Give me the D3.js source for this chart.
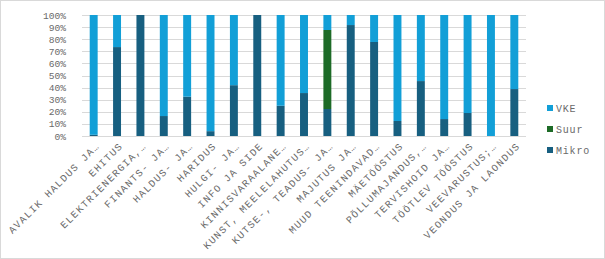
<!DOCTYPE html>
<html>
<head>
<meta charset="utf-8">
<script src="https://cdn.jsdelivr.net/npm/d3@7"></script>
<style>
  body { margin: 0; background: #fff; }
  text { font-family: "Courier New", "Liberation Mono", monospace; fill: #6a6a6a; }
</style>
</head>
<body>
<div id="chart"></div>
<script>
// categories and shares (in %)
const categories = [
    "AVALIK HALDUS JA…", "EHITUS", "ELEKTRIENERGIA,…", "FINANTS- JA…", "HALDUS- JA…",
    "HARIDUS", "HULGI- JA…", "INFO JA SIDE", "KINNISVARAALANE…", "KUNST, MEELELAHUTUS…",
    "KUTSE-, TEADUS- JA…", "MAJUTUS JA…", "MUUD TEENINDAVAD…", "MÄETÖÖSTUS", "PÕLLUMAJANDUS,…",
    "TERVISHOID JA…", "TÖÖTLEV TÖÖSTUS", "VEEVARUSTUS;…", "VEONDUS JA LAONDUS"
];
const mikro = [1, 73.5, 100, 16.5, 32.5, 4, 42, 100, 25, 35.5, 22.3, 91.7, 77.7, 12.4, 45.4, 14, 19, 0, 38.8];
const suur  = [0, 0, 0, 0, 0, 0, 0, 0, 0, 0, 65.3, 0, 0, 0, 0, 0, 0, 0, 0];
const vke   = mikro.map((m, i) => 100 - m - suur[i]);

const seriesNames = ["Mikro", "Suur", "VKE"];
const colors = { Mikro: "#175f80", Suur: "#1d6b27", VKE: "#129fd7" };
const yTicks = [0, 10, 20, 30, 40, 50, 60, 70, 80, 90, 100];

const width = 605;
const height = 259;

const table = categories.map((c, i) => ({ cat: c, Mikro: mikro[i], Suur: suur[i], VKE: vke[i] }));

const svg = d3.select("#chart")
    .append("svg")
    .attr("width", width)
    .attr("height", height);

svg.append("rect")
    .attr("x", 0.5).attr("y", 0.5)
    .attr("width", width - 1).attr("height", height - 1)
    .attr("fill", "#fff")
    .attr("stroke", "#d9d9d9");

const x = d3.scaleBand()
    .domain(categories)
    .range([82, 526])
    .paddingInner(0.66)
    .paddingOuter(0.33);

const y = d3.scaleLinear()
    .domain([0, 100])
    .range([136, 15]);

// gridlines
svg.append("g")
    .selectAll("line")
    .data(yTicks)
    .enter()
    .append("line")
    .attr("x1", 82)
    .attr("x2", 526)
    .attr("y1", d => Math.round(y(d)) + 0.5)
    .attr("y2", d => Math.round(y(d)) + 0.5)
    .attr("stroke", "#d9d9d9")
    .attr("stroke-width", 1);

const leftAxis = d3.axisLeft(y)
    .tickValues(yTicks)
    .tickFormat(d => d + "%")
    .tickSize(0)
    .tickPadding(16);

const gy = svg.append("g")
    .attr("transform", "translate(82,0)")
    .call(leftAxis);
gy.select(".domain").remove();
gy.selectAll("text")
    .style("font-size", "9.6px")
    .style("fill", "#6a6a6a")
    .style("font-family", '"Courier New", "Liberation Mono", monospace');

const stacked = d3.stack().keys(seriesNames)(table);

svg.append("g")
    .selectAll("g")
    .data(stacked)
    .enter()
    .append("g")
    .attr("fill", d => colors[d.key])
    .selectAll("rect")
    .data(d => d)
    .enter()
    .append("rect")
    .attr("x", d => x(d.data.cat))
    .attr("width", x.bandwidth())
    .attr("y", d => y(d[1]))
    .attr("height", d => y(d[0]) - y(d[1]));

// category labels, rotated
svg.append("g")
    .selectAll("text")
    .data(categories)
    .enter()
    .append("text")
    .attr("transform", d => `translate(${x(d) + x.bandwidth() / 2 + 4},144) rotate(-45)`)
    .attr("text-anchor", "end")
    .attr("dy", "0.35em")
    .style("font-size", "10px")
    .style("letter-spacing", "1.3px")
    .text(d => d);

// legend
const legend = svg.append("g")
    .selectAll("g")
    .data(seriesNames.slice().reverse())
    .enter()
    .append("g")
    .attr("transform", (d, i) => `translate(547,${108 + i * 21})`);

legend.append("rect")
    .attr("x", 0).attr("y", -3)
    .attr("width", 6).attr("height", 6)
    .attr("fill", d => colors[d]);

legend.append("text")
    .attr("x", 9)
    .attr("dy", "0.35em")
    .style("font-size", "10px")
    .style("letter-spacing", "0.8px")
    .text(d => d);
</script>
</body>
</html>
